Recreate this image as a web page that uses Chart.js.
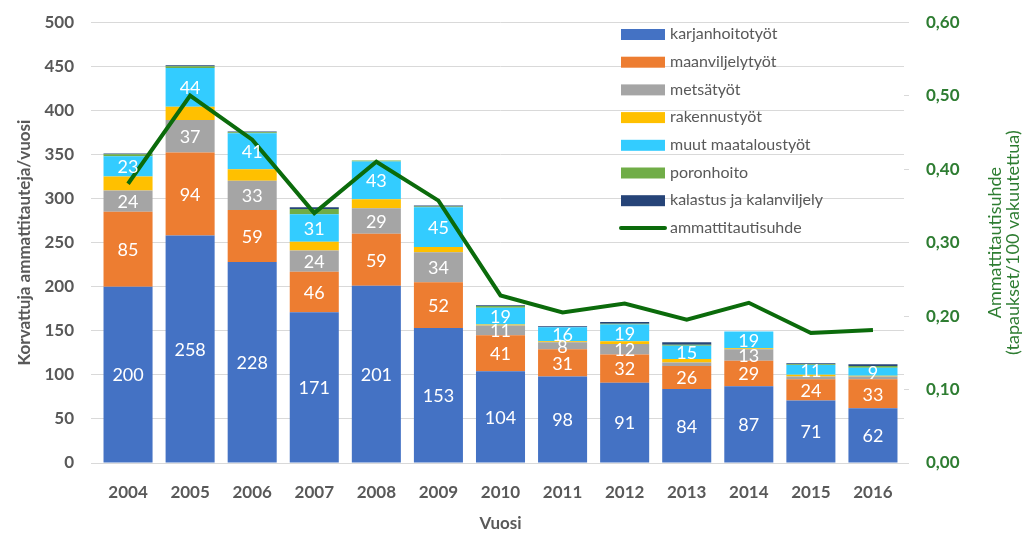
<!DOCTYPE html>
<html>
<head>
<meta charset="utf-8">
<script src="https://cdn.jsdelivr.net/npm/chart.js@4.4.1/dist/chart.umd.min.js"></script>
<style>
html,body{margin:0;padding:0;background:#fff;}
#wrap{width:1027px;height:533px;position:relative;}
</style>
</head>
<body>
<div id="wrap"><canvas id="c" width="1027" height="533"></canvas></div>
<script>
const years = ["2004","2005","2006","2007","2008","2009","2010","2011","2012","2013","2014","2015","2016"];
const karjanhoitotyot = [200,258,228,171,201,153,104,98,91,84,87,71,62];
const maanviljelytyot = [85,94,59,46,59,52,41,31,32,26,29,24,33];
const metsatyot = [24,37,33,24,29,34,11,8,12,4,13,3,3];
const rakennustyot = [16,15,13,10,10,6,1,1,3,4,1,2,1];
const muutMaataloustyot = [23,44,41,31,43,45,19,16,19,15,19,11,9];
const poronhoito = [2,2,1,6,1,1,2,0,1,1,0,1,2];
const kalastus = [1,1,1,2,0,1,1,1,2,3,0,1,2];
const ammattitautisuhde = [0.38,0.50,0.44,0.34,0.41,0.357,0.228,0.205,0.217,0.195,0.218,0.177,0.181];

const seriesNames = ["karjanhoitotyöt","maanviljelytyöt","metsätyöt","rakennustyöt","muut maataloustyöt","poronhoito","kalastus ja kalanviljely","ammattitautisuhde"];
const seriesColors = ["#4472C4","#ED7D31","#A5A5A5","#FFC000","#33CCFF","#70AD47","#264478","#0B6B0B"];
const labelledSeries = [0,1,2,4];

const leftTitle = "Korvattuja ammattitauteja/vuosi";
const rightTitle = ["Ammattitautisuhde","(tapaukset/100 vakuutettua)"];
const xTitle = "Vuosi";

const FONT = "Lato, 'Open Sans', sans-serif";
const barData = [karjanhoitotyot,maanviljelytyot,metsatyot,rakennustyot,muutMaataloustyot,poronhoito,kalastus];

const datasets = barData.map((d,i)=>({
  type:'bar', label:seriesNames[i], data:d, backgroundColor:seriesColors[i],
  yAxisID:'y', stack:'s', order:1, barPercentage:0.79, categoryPercentage:1.0, borderWidth:0
}));
datasets.push({
  type:'line', label:seriesNames[7], data:ammattitautisuhde, borderColor:seriesColors[7],
  borderWidth:4, pointRadius:0, tension:0, yAxisID:'y1', order:0, fill:false
});

const labelPlugin = {
  id:'labels',
  afterDatasetsDraw(chart){
    const ctx = chart.ctx;
    ctx.save();
    ctx.fillStyle = '#ffffff';
    ctx.font = "18px " + FONT;
    ctx.textAlign = 'center';
    ctx.textBaseline = 'middle';
    labelledSeries.forEach(si=>{
      const meta = chart.getDatasetMeta(si);
      meta.data.forEach((bar,j)=>{
        const v = barData[si][j];
        if (v >= 8) {
          const p = bar.getProps(['x','y','base'], true);
          ctx.fillText(String(v), p.x, (p.y + p.base)/2 + 1);
        }
      });
    });
    ctx.restore();
  }
};

const decorPlugin = {
  id:'decor',
  afterDraw(chart){
    const ctx = chart.ctx;
    const ca = chart.chartArea;
    ctx.save();
    const lx = 621, ly0 = 34, step = 27.7;
    ctx.font = "16px " + FONT;
    ctx.textBaseline = 'middle';
    ctx.textAlign = 'left';
    seriesNames.forEach((n,i)=>{
      const y = ly0 + i*step;
      if (i < 7) {
        ctx.fillStyle = seriesColors[i];
        ctx.fillRect(lx, y-5, 44, 11);
      } else {
        ctx.strokeStyle = seriesColors[i];
        ctx.lineWidth = 4;
        ctx.lineCap = 'round';
        ctx.beginPath(); ctx.moveTo(lx, y); ctx.lineTo(lx+44, y); ctx.stroke();
      }
      ctx.fillStyle = '#595959';
      ctx.fillText(n, lx+49, y);
    });
    ctx.fillStyle = '#595959';
    ctx.font = "bold 17px " + FONT;
    ctx.textAlign = 'center';
    ctx.translate(25, (ca.top+ca.bottom)/2);
    ctx.rotate(-Math.PI/2);
    ctx.fillText(leftTitle, 0, 0);
    ctx.setTransform(1,0,0,1,0,0);
    ctx.fillStyle = '#2E7D32';
    ctx.font = "18px " + FONT;
    ctx.translate(1004, (ca.top+ca.bottom)/2);
    ctx.rotate(-Math.PI/2);
    ctx.fillText(rightTitle[0], 0, -9);
    ctx.fillText(rightTitle[1], 0, 9);
    ctx.setTransform(1,0,0,1,0,0);
    ctx.fillStyle = '#595959';
    ctx.font = "bold 17px " + FONT;
    ctx.fillText(xTitle, (ca.left+ca.right)/2, 524);
    ctx.restore();
  }
};

new Chart(document.getElementById('c'), {
  data:{ labels: years, datasets: datasets },
  options:{
    responsive:false, animation:false,
    layout:{ padding:{ top:16, left:0, right:0, bottom:0 } },
    plugins:{ legend:{display:false}, tooltip:{enabled:false} },
    scales:{
      x:{
        stacked:true,
        grid:{ display:false, drawTicks:false },
        border:{ display:true, color:'#d9d9d9' },
        ticks:{ color:'#595959', font:{ family:FONT, size:17, weight:'bold' }, padding:19 },
        afterFit(s){ s.height = 70; }
      },
      y:{
        position:'left', stacked:true, min:0, max:500,
        ticks:{ stepSize:50, color:'#595959', font:{ family:FONT, size:17, weight:'bold', lineHeight:0.6 }, padding:17 },
        grid:{ color:'#d9d9d9', tickLength:6, drawTicks:true, lineWidth:1 },
        border:{ display:false },
        afterFit(s){ s.width = 97; }
      },
      y1:{
        position:'right', min:0, max:0.6,
        ticks:{ stepSize:0.1, color:'#2E7D32', font:{ family:FONT, size:17, weight:'bold', lineHeight:0.6 }, padding:17,
          callback:(v)=> v.toFixed(2).replace('.',',') },
        grid:{ drawOnChartArea:false, color:'#d9d9d9', tickLength:5 },
        border:{ display:false },
        afterFit(s){ s.width = 123; }
      }
    }
  },
  plugins:[labelPlugin, decorPlugin]
});
</script>
</body>
</html>
